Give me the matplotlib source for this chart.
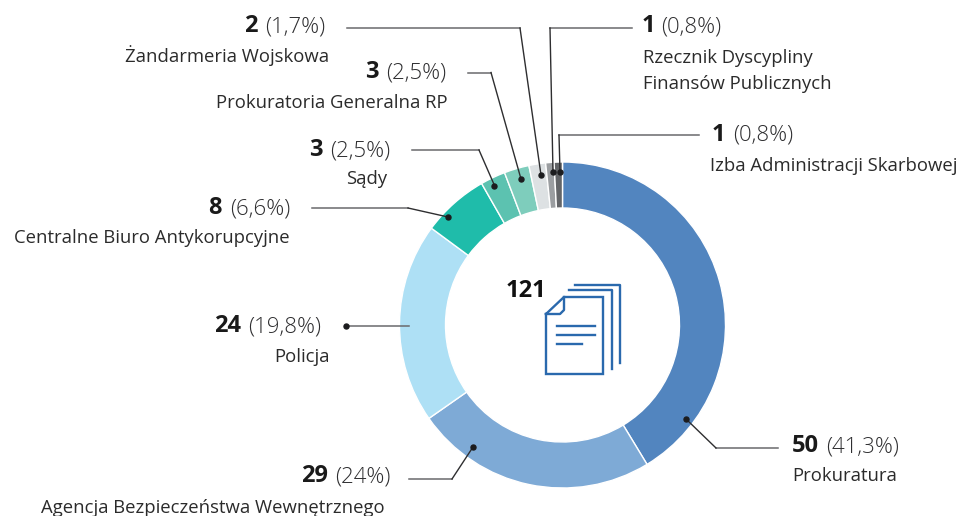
import matplotlib
matplotlib.use("Agg")
import matplotlib.pyplot as plt

plt.rcParams['font.family'] = ['Open Sans', 'DejaVu Sans']

# Clockwise from the top
names = ['Prokuratura', 'Agencja Bezpieczeństwa Wewnętrznego', 'Policja',
         'Centralne Biuro Antykorupcyjne', 'Sądy', 'Prokuratoria Generalna RP',
         'Żandarmeria Wojskowa', 'Rzecznik Dyscypliny\nFinansów Publicznych',
         'Izba Administracji Skarbowej']
counts = [50, 29, 24, 8, 3, 3, 2, 1, 1]
shares = ['(41,3%)', '(24%)', '(19,8%)', '(6,6%)', '(2,5%)', '(2,5%)', '(1,7%)', '(0,8%)', '(0,8%)']
colors = ['#5285bf', '#7eaad6', '#aee0f5', '#1fbcaa', '#5cc2b0', '#7ecdbc',
          '#dde1e3', '#9b9ea1', '#636568']
total = 121

# count right edge, share left edge, count baseline, name x, name baseline, name align
label_pos = [(819, 826, 452, 792, 481, 'left'),
             (328, 335, 482, 385, 513, 'right'),
             (241, 248, 332, 330, 362, 'right'),
             (222, 230, 214, 290, 243, 'right'),
             (323, 330, 156, 387, 184, 'right'),
             (379, 386, 78, 448, 108, 'right'),
             (258, 265, 32, 329, 62, 'right'),
             (655, 661, 32, 643, 89, 'left'),
             (725, 733, 141, 710, 171, 'left')]

leaders = [[(778, 448), (716, 448), (686, 419)],
           [(409, 479), (452, 479), (473, 447)],
           [(409, 326), (346, 326)],
           [(312, 208), (408, 208), (448, 217)],
           [(412, 150), (479, 150), (494.5, 185.5)],
           [(468, 72.5), (491, 72.5), (521, 179)],
           [(347, 28), (520, 28), (541, 175)],
           [(632, 28), (550, 28), (553, 172)],
           [(699, 135), (559, 135), (560, 172)]]

fig = plt.figure(figsize=(9.58, 5.16), dpi=100)
ax = fig.add_axes([0, 0, 1, 1])

ax.pie(counts, colors=colors, center=(562.5, 325), radius=163, startangle=270,
       counterclock=True, wedgeprops=dict(width=46, edgecolor='white', linewidth=1.0))
ax.set_xlim(0, 958)
ax.set_ylim(516, 0)
ax.set_aspect('equal')
ax.axis('off')

for pts in leaders:
    xs = [p[0] for p in pts]
    ys = [p[1] for p in pts]
    ax.plot(xs[:2], ys[:2], color='#6a6a6c', lw=1.1, zorder=4)
    ax.plot(xs[1:], ys[1:], color='#2e2e30', lw=1.0, zorder=4)
    ax.plot(xs[-1], ys[-1], 'o', color='#1c1c1e', ms=3.6, zorder=5)

for name, n, share, pos in zip(names, counts, shares, label_pos):
    cx, sx, by, nx, ny, ha = pos
    ax.text(cx, by, str(n), ha='right', va='baseline', fontsize=17, fontweight='bold', color='#1a1a1a')
    ax.text(sx, by, share, ha='left', va='baseline', fontsize=16, fontweight='light', color='#2e2e30')
    ax.text(nx, ny, name, ha=ha, va='baseline', fontsize=13.3, color='#2b2b2b', linespacing=1.58)

ax.text(546, 297, str(total), ha='right', va='baseline', fontsize=17, fontweight='bold', color='#111111')

# document icon
blue = '#2a69ad'
ax.plot([546, 546, 603, 603, 564, 546], [314, 374, 374, 297, 297, 314], color=blue, lw=1.7, solid_joinstyle='miter')
ax.plot([564, 564, 560, 546], [297, 310, 314, 314], color=blue, lw=1.7)
ax.plot([569, 612, 612], [290, 290, 369], color=blue, lw=1.7)
ax.plot([575, 620, 620], [284.5, 284.5, 363], color=blue, lw=1.7)
ax.plot([557, 595], [326, 326], color=blue, lw=1.7)
ax.plot([557, 595], [335, 335], color=blue, lw=1.7)
ax.plot([557, 582], [344, 344], color=blue, lw=1.7)

fig.savefig('out.png', dpi=100)
